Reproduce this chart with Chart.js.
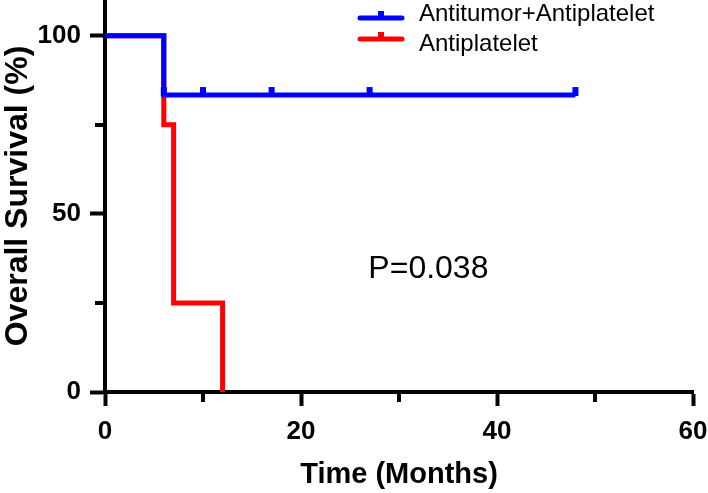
<!DOCTYPE html>
<html lang="en">
  <head>
    <meta charset="UTF-8" />
    <title>Overall Survival</title>
    <script src="https://cdn.jsdelivr.net/npm/chart.js"></script>
    <style>
      body {
        margin: 0;
        padding: 0;
        background: #fff;
      }
      .wrap {
        width: 708px;
        height: 493px;
        overflow: hidden;
      }
      #kmChart {
        display: block;
        margin-top: -6px;
      }
    </style>
  </head>
  <body>
    <div class="wrap">
      <canvas id="kmChart" width="708" height="499"></canvas>
    </div>

    <script>
      // Kaplan-Meier steps (time in months, survival in %)
      const comboTimes = [0, 6, 48];
      const comboSurvival = [100, 83.33, 83.33];
      const comboCensorTimes = [6, 10, 17, 27, 48];

      const antiTimes = [0, 6, 7, 12];
      const antiSurvival = [100, 75, 25, 0];

      const seriesLabels = ["Antitumor+Antiplatelet", "Antiplatelet"];
      const seriesColors = ["#0000ff", "#ff0000"];

      const xMajorTicks = [0, 20, 40, 60];
      const xMinorTicks = [10, 30, 50];
      const yMajorTicks = [0, 50, 100];
      const yMinorTicks = [25, 75];

      const pValueText = "P=0.038";
      const pValuePos = [33, 32];

      const FONT = "'Liberation Sans', Arial, sans-serif";
      Chart.defaults.font.family = FONT;
      Chart.defaults.color = "#000";

      // censor mark: a small bar sitting on top of the curve
      function censorMark(color) {
        const c = document.createElement("canvas");
        c.width = 8;
        c.height = 20;
        const g = c.getContext("2d");
        g.fillStyle = color;
        g.fillRect(1, 2, 6, 9);
        return c;
      }

      const toPoints = (xs, ys) => xs.map((x, i) => ({ x: x, y: ys[i] }));
      const comboLevel = (t) => {
        let v = comboSurvival[0];
        comboTimes.forEach((x, i) => {
          if (x <= t) v = comboSurvival[i];
        });
        return v;
      };

      const extras = {
        id: "extras",
        afterDraw(chart) {
          const ctx = chart.ctx;
          const xs = chart.scales.x;
          const ys = chart.scales.y;
          const area = chart.chartArea;
          ctx.save();
          // minor ticks
          ctx.strokeStyle = "#000";
          ctx.lineWidth = 4;
          xMinorTicks.forEach((v) => {
            const px = Math.round(xs.getPixelForValue(v));
            ctx.beginPath();
            ctx.moveTo(px, area.bottom);
            ctx.lineTo(px, area.bottom + 10);
            ctx.stroke();
          });
          yMinorTicks.forEach((v) => {
            const py = Math.round(ys.getPixelForValue(v));
            ctx.beginPath();
            ctx.moveTo(area.left, py);
            ctx.lineTo(area.left - 10, py);
            ctx.stroke();
          });

          // legend (canvas is shifted up 6px by css)
          const rows = [
            { text: 24, line: 24 },
            { text: 54, line: 45 },
          ];
          ctx.font = "24px " + FONT;
          ctx.textBaseline = "alphabetic";
          seriesLabels.forEach((lab, i) => {
            const r = rows[i];
            ctx.strokeStyle = seriesColors[i];
            ctx.fillStyle = seriesColors[i];
            ctx.lineWidth = 5;
            ctx.lineCap = "round";
            ctx.beginPath();
            ctx.moveTo(360, r.line);
            ctx.lineTo(402, r.line);
            ctx.stroke();
            ctx.fillRect(378, r.line - 7, 6, 7);
            ctx.fillStyle = "#000";
            ctx.fillText(lab, 419, r.text + 3);
          });

          // p value
          ctx.font = "32px " + FONT;
          ctx.textAlign = "center";
          ctx.fillStyle = "#000";
          ctx.fillText(
            pValueText,
            xs.getPixelForValue(pValuePos[0]),
            ys.getPixelForValue(pValuePos[1])
          );
          ctx.restore();
        },
      };

      new Chart(document.getElementById("kmChart"), {
        type: "line",
        data: {
          datasets: [
            {
              label: seriesLabels[0],
              data: toPoints(comboTimes, comboSurvival),
              borderColor: seriesColors[0],
              borderWidth: 5,
              stepped: true,
              pointRadius: 0,
              fill: false,
            },
            {
              label: "censored",
              data: comboCensorTimes.map((t) => ({ x: t, y: comboLevel(t) })),
              showLine: false,
              pointStyle: censorMark(seriesColors[0]),
              pointRadius: 6,
              borderWidth: 0,
            },
            {
              label: seriesLabels[1],
              data: toPoints(antiTimes, antiSurvival),
              borderColor: seriesColors[1],
              borderWidth: 5,
              stepped: true,
              pointRadius: 0,
              fill: false,
            },
          ],
        },
        options: {
          responsive: false,
          animation: false,
          layout: { padding: { left: 0, right: 15, top: 0, bottom: 0 } },
          plugins: {
            legend: { display: false },
            tooltip: { enabled: false },
          },
          scales: {
            x: {
              type: "linear",
              min: 0,
              max: 60,
              afterBuildTicks: (s) => {
                s.ticks = xMajorTicks.map((v) => ({ value: v }));
              },
              afterFit: (s) => {
                s.height = 101;
                s.paddingLeft = 0;
                s.paddingRight = 0;
              },
              border: { display: true, color: "#000", width: 4 },
              grid: {
                drawOnChartArea: false,
                drawTicks: true,
                tickLength: 14,
                tickWidth: 4,
                tickColor: "#000",
              },
              ticks: {
                padding: 10,
                maxRotation: 0,
                font: { size: 26, weight: "bold" },
              },
              title: {
                display: true,
                text: "Time (Months)",
                font: { size: 29, weight: "bold", lineHeight: 1 },
                padding: { top: 0, bottom: 4 },
              },
            },
            y: {
              type: "linear",
              min: 0,
              max: 110,
              afterBuildTicks: (s) => {
                s.ticks = yMajorTicks.map((v) => ({ value: v }));
              },
              afterFit: (s) => {
                s.width = 105;
                s.paddingTop = 0;
                s.paddingBottom = 0;
              },
              border: { display: true, color: "#000", width: 4 },
              grid: {
                drawOnChartArea: false,
                drawTicks: true,
                tickLength: 15,
                tickWidth: 4,
                tickColor: "#000",
              },
              ticks: {
                padding: 9,
                font: { size: 26, weight: "bold" },
              },
              title: {
                display: true,
                text: "Overall Survival (%)",
                font: { size: 32, weight: "bold", lineHeight: 1 },
                padding: { top: 2, bottom: 0 },
              },
            },
          },
        },
        plugins: [extras],
      });
    </script>
  </body>
</html>
